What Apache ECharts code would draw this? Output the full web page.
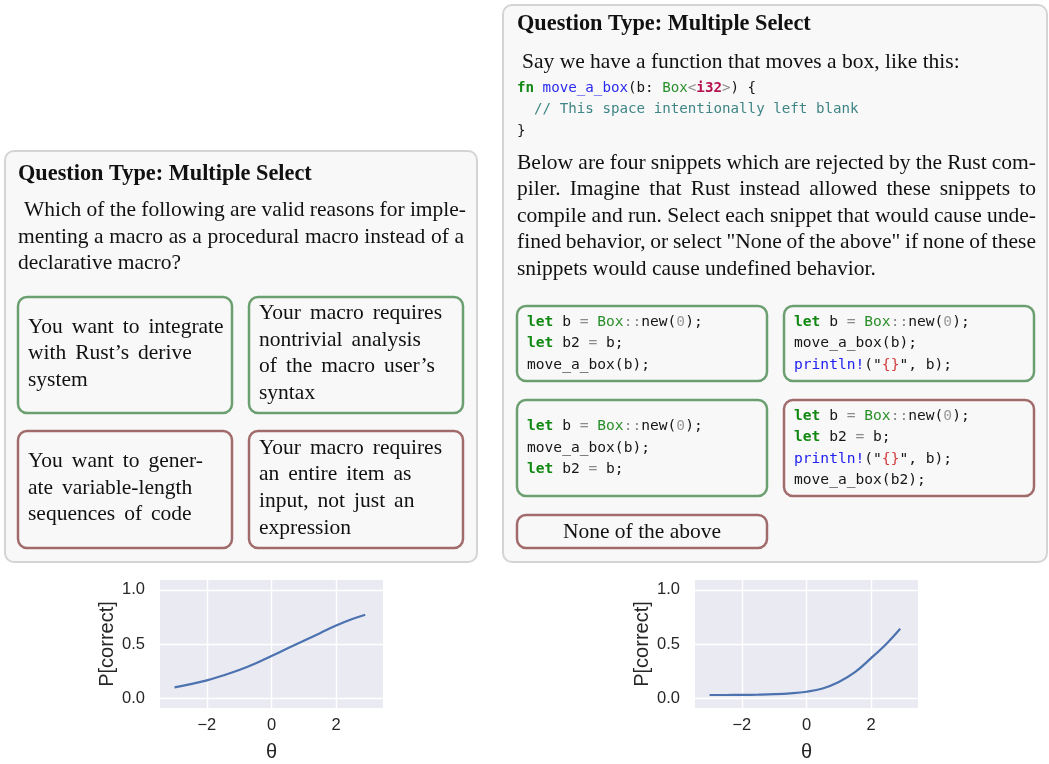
<!DOCTYPE html>
<html>
<head>
<meta charset="utf-8">
<script src="https://cdn.jsdelivr.net/npm/echarts@6/dist/echarts.min.js"></script>
<style>
  html, body { margin: 0; padding: 0; background: #fff; }
  #main { width: 1049px; height: 764px; }
</style>
</head>
<body>
<div id="main"></div>
<script>
  // item characteristic curves
  var thetas = [-3, -2.5, -2, -1.5, -1, -0.5, 0, 0.5, 1, 1.5, 2, 2.5, 2.9]
  var pLeft = [0.10, 0.13, 0.165, 0.21, 0.26, 0.32, 0.39, 0.46, 0.53, 0.60, 0.67, 0.73, 0.77]
  var pRight = [0.03, 0.03, 0.031, 0.033, 0.037, 0.045, 0.06, 0.09, 0.15, 0.24, 0.37, 0.51, 0.64]
  var xTicks = [-2, 0, 2]
  var yTicks = [0, 0.5, 1]

  var titleText = 'Question Type: Multiple Select'
  var leftPrompt = [
    'Which of the following are valid reasons for imple-',
    'menting a macro as a procedural macro instead of a',
    'declarative macro?'
  ]
  var leftOptions = [
    ['You want to integrate', 'with Rust\u2019s derive', 'system'],
    ['Your macro requires', 'nontrivial analysis', 'of the macro user\u2019s', 'syntax'],
    ['You want to gener-', 'ate variable-length', 'sequences of code'],
    ['Your macro requires', 'an entire item as', 'input, not just an', 'expression']
  ]
  var leftCorrect = [true, true, false, false]

  var rightIntro = 'Say we have a function that moves a box, like this:'
  var rightCode = [
    'fn move_a_box(b: Box<i32>) {',
    '  // This space intentionally left blank',
    '}'
  ]
  var rightPrompt = [
    'Below are four snippets which are rejected by the Rust com-',
    'piler. Imagine that Rust instead allowed these snippets to',
    'compile and run. Select each snippet that would cause unde-',
    'fined behavior, or select "None of the above" if none of these',
    'snippets would cause undefined behavior.'
  ]
  var rightOptions = [
    ['let b = Box::new(0);', 'let b2 = b;', 'move_a_box(b);'],
    ['let b = Box::new(0);', 'move_a_box(b);', 'println!("{}", b);'],
    ['let b = Box::new(0);', 'move_a_box(b);', 'let b2 = b;'],
    ['let b = Box::new(0);', 'let b2 = b;', 'println!("{}", b);', 'move_a_box(b2);']
  ]
  var rightCorrect = [true, true, true, false]
  var noneText = 'None of the above'

  var SERIF = '"Liberation Serif", "Times New Roman", serif'
  var MONO = '"DejaVu Sans Mono", monospace'
  var SANS = '"Liberation Sans", Arial, sans-serif'
  var bodyFont = 'normal 21.5px ' + SERIF
  var titleFont = 'bold 22.3px ' + SERIF
  var GREEN = '#6c9f70'
  var RED = '#a26b6b'
  var PANEL = '#f8f8f8'

  var ctx = document.createElement('canvas').getContext('2d')
  function textWidth(s, font) {
    ctx.font = font
    return ctx.measureText(s).width
  }

  function txt(x, y, s, font, fill, align) {
    return {
      type: 'text', x: x, y: y, silent: true, z: 10,
      style: { text: s, font: font, fill: fill || '#111', align: align || 'left', verticalAlign: 'middle' }
    }
  }

  // lay a line out word by word; width -> justified, otherwise fixed gap
  function wordLine(line, x, y, font, width, gap) {
    var ws = line.split(' ')
    var wd = ws.map(function (w) { return textWidth(w, font) })
    var sum = wd.reduce(function (a, b) { return a + b }, 0)
    var g = gap || textWidth(' ', font)
    if (width && ws.length > 1) g = (width - sum) / (ws.length - 1)
    var out = []
    var cx = x
    ws.forEach(function (w, i) {
      out.push(txt(cx, y, w, font))
      cx += wd[i] + g
    })
    return out
  }

  var codeColors = {
    kw: ['#118811', true],
    type: ['#2a8f2a', false],
    prim: ['#b8104f', true],
    fname: ['#2a2aee', false],
    macro: ['#2020f0', false],
    fmt: ['#d23a3a', false],
    num: ['#9a9a9a', false],
    op: ['#8a8a8a', false],
    comment: ['#3f8585', false],
    plain: ['#161616', false]
  }
  var codeRules = [
    [/^\/\/.*/, 'comment'],
    [/^(let|fn)\b/, 'kw'],
    [/^i32\b/, 'prim'],
    [/^Box\b/, 'type'],
    [/^println!/, 'macro'],
    [/^\{\}/, 'fmt'],
    [/^[0-9]+/, 'num'],
    [/^(::|=|<|>)/, 'op'],
    [/^[A-Za-z_][A-Za-z0-9_]*/, 'plain'],
    [/^./, 'plain']
  ]

  function codeLine(line, x, y, size) {
    var plainFont = 'normal ' + size + 'px ' + MONO
    var boldFont = 'bold ' + size + 'px ' + MONO
    var cw = textWidth('M', plainFont)
    var out = []
    var col = 0
    var rest = line
    var prev = ''
    while (rest.length) {
      for (var i = 0; i < codeRules.length; i++) {
        var m = rest.match(codeRules[i][0])
        if (m) {
          var kind = codeRules[i][1]
          if (kind === 'plain' && prev === 'fn' && /^[A-Za-z_]/.test(m[0])) kind = 'fname'
          if (m[0].trim()) {
            var c = codeColors[kind]
            out.push(txt(x + col * cw, y, m[0], c[1] ? boldFont : plainFont, c[0]))
            prev = m[0]
          }
          col += m[0].length
          rest = rest.slice(m[0].length)
          break
        }
      }
    }
    return out
  }

  function box(x, y, w, h, stroke, width, r) {
    return {
      type: 'rect', silent: true, z: 5,
      shape: { x: x, y: y, width: w, height: h, r: r },
      style: { fill: PANEL, stroke: stroke, lineWidth: width }
    }
  }

  var g = []

  // ---- left question panel
  g.push(box(5, 151, 472, 411, '#d4d4d4', 2, 9))
  g.push(txt(18, 174, titleText, titleFont))
  g = g.concat(wordLine(leftPrompt[0], 24, 210, bodyFont, 442))
  g = g.concat(wordLine(leftPrompt[1], 18, 237, bodyFont, 446))
  g = g.concat(wordLine(leftPrompt[2], 18, 263, bodyFont))
  var lBoxes = [[18, 297, 214, 116], [249, 297, 214, 116], [18, 431, 214, 117], [249, 431, 214, 117]]
  lBoxes.forEach(function (b, i) {
    g.push(box(b[0], b[1], b[2], b[3], leftCorrect[i] ? GREEN : RED, 2.5, 9))
    var lines = leftOptions[i]
    var cy = b[1] + b[3] / 2 - 1.5
    lines.forEach(function (l, k) {
      g = g.concat(wordLine(l, b[0] + 10, cy + (k - (lines.length - 1) / 2) * 26.6, bodyFont, null, 9))
    })
  })

  // ---- right question panel
  g.push(box(503, 5, 544, 557, '#d4d4d4', 2, 9))
  g.push(txt(517, 24, titleText, titleFont))
  g = g.concat(wordLine(rightIntro, 522, 62, bodyFont))
  rightCode.forEach(function (l, k) {
    g = g.concat(codeLine(l, 517, 88 + k * 21.5, 14.2))
  })
  rightPrompt.forEach(function (l, k) {
    var last = k === rightPrompt.length - 1
    g = g.concat(wordLine(l, 517, 163 + k * 26.5, bodyFont, last ? null : 519))
  })
  var rBoxes = [[517, 306, 250, 75], [784, 306, 250, 75], [517, 400, 250, 96], [784, 400, 250, 96]]
  rBoxes.forEach(function (b, i) {
    g.push(box(b[0], b[1], b[2], b[3], rightCorrect[i] ? GREEN : RED, 2.5, 9))
    var lines = rightOptions[i]
    var cy = b[1] + b[3] / 2
    lines.forEach(function (l, k) {
      g = g.concat(codeLine(l, b[0] + 10, cy + (k - (lines.length - 1) / 2) * 21.5, 14.6))
    })
  })
  g.push(box(517, 515, 250, 33, RED, 2.5, 9))
  g.push(txt(642, 532, noneText, bodyFont, '#111', 'center'))

  // ---- the two small seaborn-style plots
  function minus(v) {
    return v < 0 ? '\u2212' + Math.abs(v) : String(v)
  }
  var tickText = { color: '#262626', fontSize: 16.5, fontFamily: SANS }
  var nameText = { color: '#262626', fontSize: 20, fontFamily: SANS }

  function xAxisFor(idx) {
    return {
      gridIndex: idx, type: 'value', min: -3.45, max: 3.45,
      name: '\u03b8', nameLocation: 'middle', nameGap: 34,
      nameTextStyle: nameText,
      axisLine: { show: false },
      axisTick: { show: false, customValues: xTicks },
      axisLabel: Object.assign({ customValues: xTicks, margin: 9, formatter: minus }, tickText),
      splitLine: { show: true, lineStyle: { color: '#ffffff', width: 1.4 } }
    }
  }
  function yAxisFor(idx) {
    return {
      gridIndex: idx, type: 'value', min: -0.09, max: 1.09,
      name: 'P[correct]', nameLocation: 'middle', nameGap: 43,
      nameTextStyle: nameText,
      axisLine: { show: false },
      axisTick: { show: false, customValues: yTicks },
      axisLabel: Object.assign({ customValues: yTicks, margin: 15, formatter: function (v) { return v.toFixed(1) } }, tickText),
      splitLine: { show: true, lineStyle: { color: '#ffffff', width: 1.4 } }
    }
  }
  function curve(idx, vals) {
    return {
      type: 'line', xAxisIndex: idx, yAxisIndex: idx,
      data: thetas.map(function (t, i) { return [t, vals[i]] }),
      smooth: 0.4, showSymbol: false, silent: true,
      lineStyle: { color: '#4c72b0', width: 2.2 }
    }
  }

  var chart = echarts.init(document.getElementById('main'))
  var option = {
    animation: false,
    backgroundColor: '#ffffff',
    grid: [
      { left: 160, top: 580, width: 223, height: 128, show: true, backgroundColor: '#eaeaf2', borderWidth: 0 },
      { left: 695, top: 580, width: 223, height: 128, show: true, backgroundColor: '#eaeaf2', borderWidth: 0 }
    ],
    xAxis: [xAxisFor(0), xAxisFor(1)],
    yAxis: [yAxisFor(0), yAxisFor(1)],
    series: [curve(0, pLeft), curve(1, pRight)],
    graphic: g
  }
  chart.setOption(option)
</script>
</body>
</html>
